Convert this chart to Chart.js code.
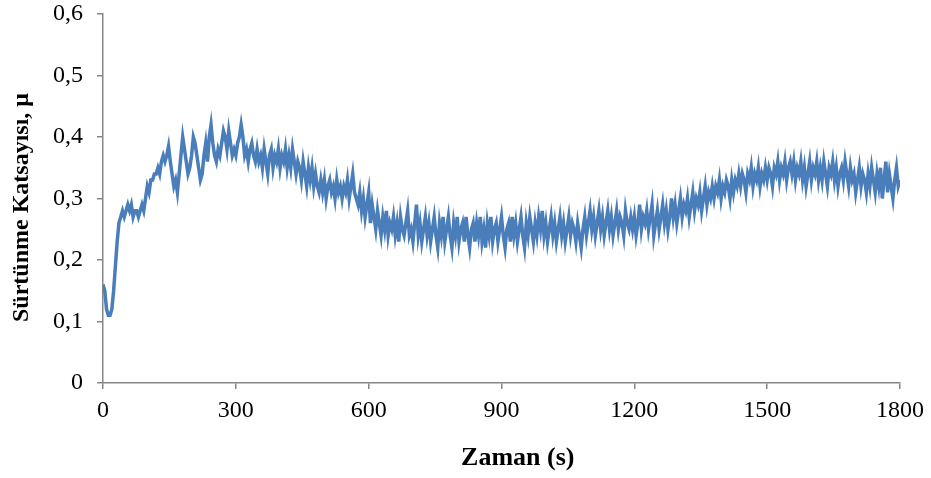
<!DOCTYPE html>
<html>
<head>
<meta charset="utf-8">
<script src="https://cdn.jsdelivr.net/npm/chart.js@4.4.0/dist/chart.umd.min.js"></script>
<style>
  html, body { margin: 0; padding: 0; background: #fff; }
  #wrap { width: 931px; height: 478px; }
</style>
</head>
<body>
<div id="wrap"><canvas id="frictionChart" width="931" height="478"></canvas></div>
<script>
// sample spacing in seconds
const sampleStep = 4;

// friction coefficient, one row = 60 s
const frictionValues = [
    0.16, 0.15, 0.12, 0.11, 0.11, 0.12, 0.15, 0.19, 0.23, 0.26, 0.27, 0.28, 0.27, 0.28, 0.29,
    0.28, 0.29, 0.27, 0.28, 0.28, 0.27, 0.28, 0.29, 0.28, 0.30, 0.32, 0.31, 0.33, 0.33, 0.34,
    0.34, 0.35, 0.34, 0.36, 0.37, 0.36, 0.37, 0.385, 0.36, 0.34, 0.32, 0.33, 0.31, 0.34, 0.37,
    0.40, 0.38, 0.36, 0.34, 0.35, 0.37, 0.40, 0.39, 0.37, 0.35, 0.33, 0.34, 0.37, 0.39, 0.36,
    0.40, 0.42, 0.39, 0.37, 0.36, 0.38, 0.37, 0.39, 0.41, 0.40, 0.38, 0.41, 0.39, 0.37, 0.38,
    0.37, 0.39, 0.40, 0.42, 0.40, 0.37, 0.38, 0.36, 0.38, 0.39, 0.37, 0.36, 0.38, 0.36, 0.37,
    0.35, 0.38, 0.36, 0.34, 0.37, 0.38, 0.35, 0.37, 0.36, 0.38, 0.35, 0.37, 0.36, 0.38, 0.35,
    0.37, 0.35, 0.38, 0.36, 0.34, 0.36, 0.35, 0.33, 0.36, 0.34, 0.32, 0.35, 0.33, 0.35, 0.32,
    0.34, 0.32, 0.31, 0.33, 0.31, 0.33, 0.30, 0.32, 0.33, 0.31, 0.32, 0.30, 0.33, 0.31, 0.32,
    0.30, 0.32, 0.31, 0.33, 0.30, 0.32, 0.34, 0.31, 0.30, 0.29, 0.31, 0.28, 0.30, 0.27, 0.29,
    0.31, 0.26, 0.29, 0.27, 0.25, 0.28, 0.26, 0.24, 0.27, 0.25, 0.28, 0.24, 0.26, 0.25, 0.27,
    0.24, 0.26, 0.23, 0.27, 0.25, 0.24, 0.26, 0.28, 0.24, 0.25, 0.23, 0.26, 0.29, 0.24, 0.26,
    0.23, 0.25, 0.27, 0.24, 0.26, 0.23, 0.25, 0.27, 0.24, 0.22, 0.26, 0.24, 0.27, 0.23, 0.25,
    0.27, 0.24, 0.22, 0.26, 0.24, 0.27, 0.23, 0.25, 0.26, 0.23, 0.27, 0.24, 0.22, 0.25, 0.26,
    0.23, 0.26, 0.24, 0.27, 0.23, 0.25, 0.22, 0.26, 0.24, 0.27, 0.23, 0.25, 0.26, 0.23, 0.25,
    0.27, 0.24, 0.22, 0.25, 0.26, 0.23, 0.27, 0.24, 0.26, 0.23, 0.25, 0.27, 0.24, 0.22, 0.26,
    0.24, 0.27, 0.25, 0.23, 0.26, 0.24, 0.27, 0.25, 0.28, 0.24, 0.26, 0.23, 0.25, 0.27, 0.24,
    0.26, 0.23, 0.25, 0.27, 0.24, 0.26, 0.23, 0.25, 0.27, 0.24, 0.26, 0.25, 0.23, 0.26, 0.24,
    0.22, 0.25, 0.27, 0.24, 0.26, 0.28, 0.25, 0.27, 0.24, 0.26, 0.28, 0.25, 0.27, 0.24, 0.26,
    0.28, 0.25, 0.27, 0.24, 0.26, 0.28, 0.25, 0.27, 0.26, 0.24, 0.28, 0.26, 0.25, 0.27, 0.25,
    0.27, 0.24, 0.26, 0.29, 0.25, 0.27, 0.26, 0.28, 0.25, 0.27, 0.29, 0.24, 0.26, 0.28, 0.25,
    0.27, 0.29, 0.26, 0.28, 0.25, 0.27, 0.30, 0.27, 0.29, 0.26, 0.28, 0.30, 0.27, 0.29, 0.28,
    0.30, 0.27, 0.29, 0.31, 0.28, 0.30, 0.29, 0.31, 0.28, 0.30, 0.32, 0.29, 0.31, 0.30, 0.32,
    0.30, 0.32, 0.31, 0.33, 0.30, 0.32, 0.31, 0.33, 0.32, 0.30, 0.33, 0.31, 0.33, 0.32, 0.34,
    0.32, 0.34, 0.33, 0.31, 0.34, 0.33, 0.35, 0.32, 0.34, 0.33, 0.35, 0.32, 0.34, 0.33, 0.35,
    0.33, 0.35, 0.34, 0.32, 0.35, 0.34, 0.36, 0.33, 0.35, 0.34, 0.36, 0.33, 0.35, 0.36, 0.34,
    0.36, 0.33, 0.35, 0.34, 0.36, 0.33, 0.35, 0.32, 0.34, 0.36, 0.33, 0.35, 0.34, 0.36, 0.33,
    0.35, 0.33, 0.36, 0.34, 0.32, 0.35, 0.34, 0.36, 0.33, 0.35, 0.32, 0.34, 0.35, 0.33, 0.36,
    0.34, 0.32, 0.35, 0.33, 0.34, 0.31, 0.33, 0.35, 0.32, 0.34, 0.33, 0.31, 0.34, 0.32, 0.35,
    0.33, 0.31, 0.34, 0.32, 0.35, 0.30, 0.33, 0.36, 0.31, 0.34, 0.32, 0.30, 0.33, 0.35, 0.32,
    0.33
];

const xTicks = [0, 300, 600, 900, 1200, 1500, 1800];
const yTicks = [0, 0.1, 0.2, 0.3, 0.4, 0.5, 0.6];

const axisGray = "#868686";
const serif = "'Liberation Serif', 'Times New Roman', serif";

const points = frictionValues.map((v, i) => ({ x: i * sampleStep, y: v }));

const ctx = document.getElementById("frictionChart").getContext("2d");
const frictionChart = new Chart(ctx, {
    type: "line",
    data: {
        datasets: [
            {
                data: points,
                borderColor: "#4a7ebb",
                borderWidth: 3.5,
                pointRadius: 0,
                tension: 0,
                fill: false,
            },
        ],
    },
    options: {
        responsive: false,
        animation: false,
        layout: {
            padding: { left: 0, right: 30, top: 0, bottom: 0 },
        },
        plugins: {
            legend: { display: false },
            tooltip: { enabled: false },
        },
        scales: {
            x: {
                type: "linear",
                min: 0,
                max: 1800,
                afterBuildTicks: (scale) => {
                    scale.ticks = xTicks.map((v) => ({ value: v }));
                },
                afterFit: (scale) => {
                    scale.height = 95;
                },
                grid: {
                    drawOnChartArea: false,
                    color: axisGray,
                    tickLength: 6,
                    lineWidth: 1.5,
                },
                border: { color: axisGray, width: 1.5 },
                ticks: {
                    color: "#000",
                    padding: 7,
                    maxRotation: 0,
                    font: { family: serif, size: 24 },
                    callback: (value) => String(value),
                },
                title: {
                    display: true,
                    // leading spaces nudge the centred title to the right, as in the original
                    text: "     Zaman (s)",
                    color: "#000",
                    padding: { top: 0, bottom: 4 },
                    font: { family: serif, size: 26, weight: "bold" },
                },
            },
            y: {
                min: 0,
                max: 0.6,
                afterBuildTicks: (scale) => {
                    scale.ticks = yTicks.map((v) => ({ value: v }));
                },
                afterFit: (scale) => {
                    scale.width = 103;
                    scale.paddingTop = 14;
                    scale.paddingBottom = 0;
                },
                grid: {
                    drawOnChartArea: false,
                    color: axisGray,
                    tickLength: 6,
                    lineWidth: 1.5,
                },
                border: { color: axisGray, width: 1.5 },
                ticks: {
                    color: "#000",
                    padding: 14,
                    font: { family: serif, size: 24 },
                    callback: (value) => (value === 0 ? "0" : value.toFixed(1).replace(".", ",")),
                },
                title: {
                    display: true,
                    text: "Sürtünme Katsayısı, μ   ",
                    color: "#000",
                    padding: { top: 7, bottom: 0 },
                    font: { family: serif, size: 24, weight: "bold" },
                },
            },
        },
    },
});
</script>
</body>
</html>
